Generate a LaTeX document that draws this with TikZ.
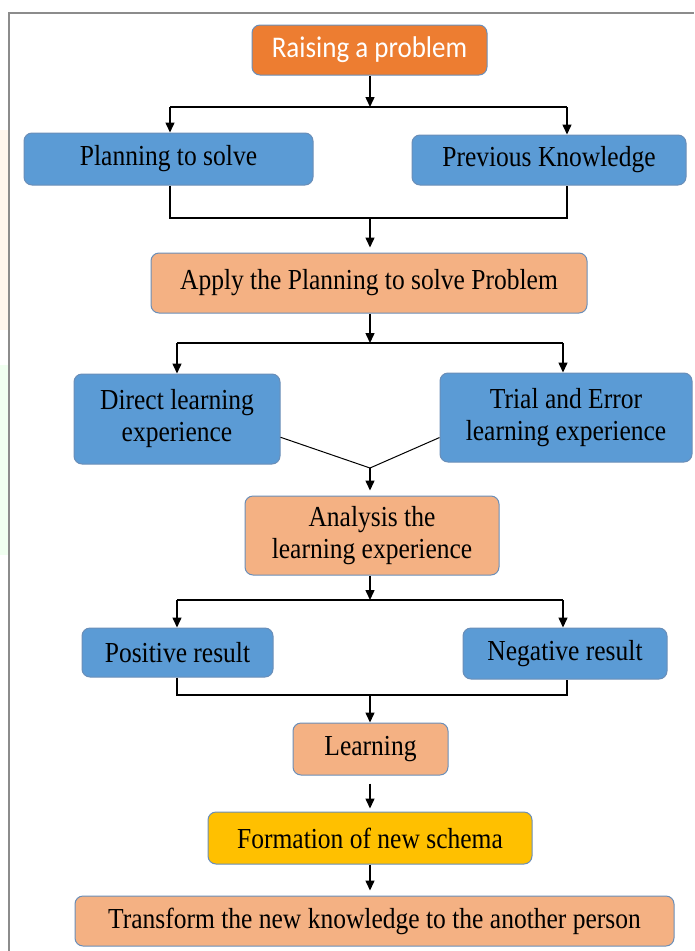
\documentclass[tikz,border=0pt]{standalone}
\usepackage{fontspec}
\setmainfont[FakeStretch=0.88]{Liberation Serif}
\newfontfamily\calibrifont[FakeStretch=0.9]{Carlito}
\usetikzlibrary{arrows.meta}
\definecolor{boxblue}{HTML}{5B9BD5}
\definecolor{boxpeach}{HTML}{F4B183}
\definecolor{boxorange}{HTML}{ED7D31}
\definecolor{boxgold}{HTML}{FFC000}
\definecolor{edgeblue}{HTML}{6A8EB8}
\definecolor{framegray}{HTML}{8C8C8C}
\begin{document}
\begin{tikzpicture}[x=1pt,y=-1pt,
	box/.style={draw=edgeblue, line width=1pt, rounded corners=8pt, inner sep=0pt,
		align=center, font=\fontsize{29}{32}\selectfont},
	bluebox/.style={box, fill=boxblue},
	peachbox/.style={box, fill=boxpeach},
	wire/.style={line width=1.5pt, black},
	link/.style={wire, -{Triangle[width=9pt,length=10pt]}}
	]
	\useasboundingbox (0,0) rectangle (694,951);
	% faint tints and the frame
	\fill[orange!7] (0,130) rectangle (9,330);
	\fill[green!6] (0,365) rectangle (9,555);
	\draw[framegray, line width=1.2pt] (9,951) -- (9,13) -- (694,13);

	% boxes
	\node[box, fill=boxorange, minimum width=235pt, minimum height=50pt,
		font=\calibrifont\fontsize{30}{32}\selectfont, text=white] (raise) at (369.5,50) {Raising a problem};
	\node[bluebox, minimum width=289pt, minimum height=52pt] (plan) at (168.5,159) {Planning to solve};
	\node[bluebox, minimum width=274pt, minimum height=50pt] (prev) at (549,160) {Previous Knowledge};
	\node[peachbox, minimum width=436pt, minimum height=60pt] (apply) at (369,283) {Apply the Planning to solve Problem};
	\node[bluebox, minimum width=206pt, minimum height=90pt] (direct) at (177,419) {Direct learning\\experience};
	\node[bluebox, minimum width=252pt, minimum height=89pt] (trial) at (566,417.5) {Trial and Error\\learning experience};
	\node[peachbox, minimum width=254pt, minimum height=79pt] (analysis) at (372,535.5) {Analysis the\\learning experience};
	\node[bluebox, minimum width=191pt, minimum height=49pt] (pos) at (177.5,652.5) {Positive result};
	\node[bluebox, minimum width=204pt, minimum height=51pt] (neg) at (565,653.5) {Negative result};
	\node[peachbox, minimum width=155pt, minimum height=52pt] (learn) at (370.5,749) {Learning};
	\node[box, fill=boxgold, minimum width=324pt, minimum height=52pt] (schema) at (370,838) {Formation of new schema};
	\node[peachbox, minimum width=599pt, minimum height=50pt] (trans) at (374.5,921) {Transform the new knowledge to the another person};

	% junction points
	\coordinate (s1) at (370,107);  \coordinate (s1l) at (170,107); \coordinate (s1r) at (567,107);
	\coordinate (m1) at (370,218);  \coordinate (m1l) at (170,218); \coordinate (m1r) at (567,218);
	\coordinate (s2) at (370,343);  \coordinate (s2l) at (177,343); \coordinate (s2r) at (563,343);
	\coordinate (v)  at (370,468);
	\coordinate (s3) at (370,600);  \coordinate (s3l) at (177,600); \coordinate (s3r) at (563,600);
	\coordinate (m3) at (370,695);  \coordinate (m3l) at (177,695); \coordinate (m3r) at (567,695);

	% connectors
	\draw[link] (s1 |- raise.south) -- (s1);
	\draw[wire] (s1l) -- (s1r);
	\draw[link] (s1l) -- (s1l |- plan.north);
	\draw[link] (s1r) -- (s1r |- prev.north);

	\draw[wire] (m1l |- plan.south) -- (m1l) -- (m1r) -- (m1r |- prev.south);
	\draw[link, shorten >=5pt] (m1) -- (m1 |- apply.north);

	\draw[link] (s2 |- apply.south) -- (s2);
	\draw[wire] (s2l) -- (s2r);
	\draw[link] (s2l) -- (s2l |- direct.north);
	\draw[link] (s2r) -- (s2r |- trial.north);

	\draw[wire, line width=1pt] (direct.-10) -- (v) -- (trial.189);
	\draw[link, shorten >=5pt] (v) -- (v |- analysis.north);

	\draw[link] (s3 |- analysis.south) -- (s3);
	\draw[wire] (s3l) -- (s3r);
	\draw[link] (s3l) -- (s3l |- pos.north);
	\draw[link] (s3r) -- (s3r |- neg.north);

	\draw[wire] (m3l |- pos.south) -- (m3l) -- (m3r) -- (m3r |- neg.south);
	\draw[link] (m3) -- (m3 |- learn.north);

	\draw[link, shorten <=8pt, shorten >=3pt] (m3 |- learn.south) -- (m3 |- schema.north);
	\draw[link, shorten >=5pt] (m3 |- schema.south) -- (m3 |- trans.north);
\end{tikzpicture}
\end{document}
